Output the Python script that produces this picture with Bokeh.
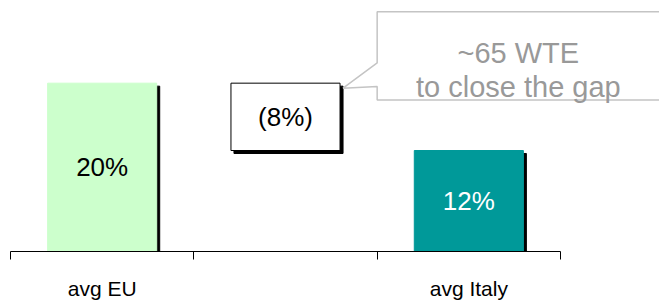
from bokeh.plotting import figure
from bokeh.models import ColumnDataSource, Range1d, FixedTicker
from bokeh.core.properties import value
from bokeh.embed import file_html
from bokeh.resources import INLINE

# ---- data ----
categories = ["avg EU", "gap", "avg Italy"]
axis_labels = ["avg EU", "", "avg Italy"]
values = [20, 8, 12]                 # EU average, gap, Italy average (%)
value_labels = ["20%", "(8%)", "12%"]
callout_lines = ["~65 WTE", "to close the gap"]

# ---- derived waterfall geometry ----
xs = list(range(len(categories)))
bottoms = [0, values[2], 0]
tops = [values[0], values[0], values[2]]
fills = ["#CCFFCC", "#FFFFFF", "#009999"]
lines = ["#CCFFCC", "#000000", "#009999"]
label_colors = ["#000000", "#000000", "#FFFFFF"]
HALF_W = 0.2975

PX_X = 550 / 3.0          # pixels per category unit
PX_Y = 8.45               # pixels per percent
DX = 3 / PX_X             # shadow offset
DY = 3 / PX_Y

W, H = 659, 302
BOTTOM_BORDER = 50
x0 = -0.5 - 10 / PX_X
p = figure(width=W, height=H, output_backend="svg", toolbar_location=None,
           x_range=Range1d(x0, x0 + W / PX_X),
           y_range=Range1d(0, (H - BOTTOM_BORDER) / PX_Y),
           y_axis_type=None,
           min_border_left=0, min_border_right=0, min_border_top=0,
           min_border_bottom=BOTTOM_BORDER)
p.grid.visible = False
p.outline_line_color = None
p.background_fill_color = "white"
p.border_fill_color = "white"

FONT = value("Liberation Sans")

src = ColumnDataSource(dict(
    x=xs,
    left=[x - HALF_W for x in xs],
    right=[x + HALF_W for x in xs],
    bottom=bottoms,
    top=tops,
    sleft=[x - HALF_W + DX for x in xs],
    sright=[x + HALF_W + DX for x in xs],
    sbottom=[b - DY for b in bottoms],
    stop=[t - DY for t in tops],
    fill=fills,
    line=lines,
    mid=[(b + t) / 2 for b, t in zip(bottoms, tops)],
    vlabel=value_labels,
    lcolor=label_colors,
))

# shadows
p.quad(left="sleft", right="sright", bottom="sbottom", top="stop", source=src,
       fill_color="black", line_color="black", line_width=1)
# bars / gap box
p.quad(left="left", right="right", bottom="bottom", top="top", source=src,
       fill_color="fill", line_color="line", line_width=1)
# value labels
p.text(x="x", y="mid", text="vlabel", source=src, text_color="lcolor",
       text_align="center", text_baseline="middle",
       text_font=FONT, text_font_size="26px")

# callout
gap_right = xs[1] + HALF_W + DX
cx = [1.5, 3.3, 3.3, 1.5, 1.5, gap_right, 1.5]
cy = [28.5, 28.5, 18.0, 18.0, 19.6, 19.4, 22.4]
p.patch(cx, cy, fill_color="white", line_color="#C4C4C4", line_width=1.5)
p.text(x=[2.27, 2.27], y=[23.55, 19.5], text=callout_lines,
       text_color="#999999", text_align="center", text_baseline="alphabetic",
       text_font=FONT, text_font_size="29px")

# x axis: boundary ticks (minor) and category labels (major, no tick)
ax = p.xaxis[0]
ax.ticker = FixedTicker(ticks=xs, minor_ticks=[-0.5, 0.5, 1.5, 2.5])
ax.bounds = (-0.5, 2.5)
ax.major_tick_out = 0
ax.major_tick_in = 0
ax.minor_tick_out = 8
ax.minor_tick_in = 0
ax.minor_tick_line_color = "black"
ax.axis_line_color = "black"
ax.axis_line_width = 1
ax.major_label_overrides = {x: t for x, t in zip(xs, axis_labels)}
ax.major_label_text_font = "Liberation Sans"
ax.major_label_text_font_size = "21px"
ax.major_label_text_color = "black"
ax.major_label_standoff = 17

open("out.html", "w").write(file_html(p, INLINE))
